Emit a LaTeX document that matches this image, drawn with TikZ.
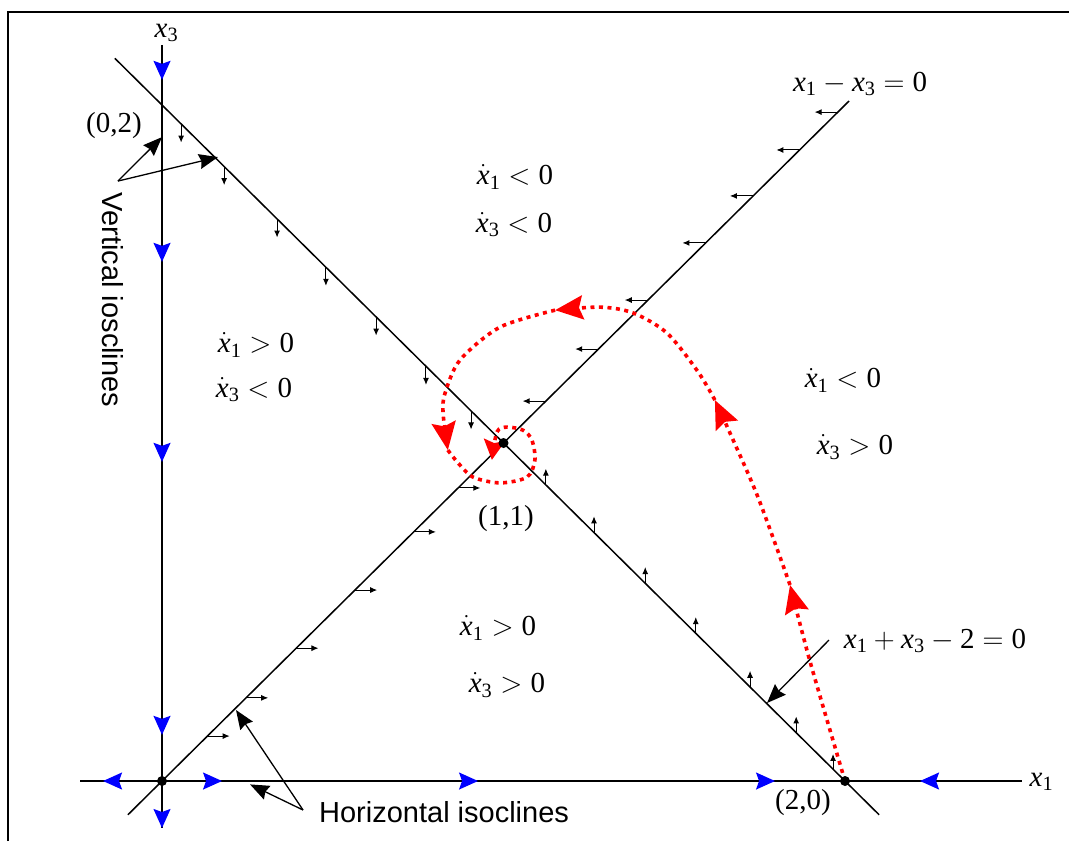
\RequirePackage{fix-cm}
\documentclass[tikz,border=0pt]{standalone}
\usepackage{amsmath}
\usepackage{fontspec}
\setmainfont{Liberation Serif}
\newfontfamily\arialfont{Liberation Sans}
\usepackage{tikz}
\usetikzlibrary{arrows.meta}
\usetikzlibrary{decorations.markings}
\newcommand{\xv}{\mathit{x}}
\newcommand{\xs}[1]{\xv_{\text{#1}}}
\newcommand{\xd}[1]{\dot{\xv}_{\text{#1}}}
\tikzset{
  bluetip/.tip={Stealth[color=blue,length=19pt,width=17pt,inset=3pt]},
  redtip/.tip={Stealth[color=red,length=28pt,width=24pt,inset=4pt]},
  smallredtip/.tip={Stealth[color=red,length=20pt,width=21pt,inset=3pt]}
}

\begin{document}
\begin{tikzpicture}[
    x=341.5pt,
    y=338pt,
    every node/.style={font=\fontsize{29}{34}\selectfont, inner sep=0pt},
    sanslabel/.style={font=\arialfont\fontsize{29}{34}\selectfont},
    isocline/.style={line width=1.5},
    flow/.style={line width=1, -{Latex[length=7pt,width=6pt]}},
    pointer/.style={line width=1.3, -{Stealth[length=19pt,width=15pt,inset=2pt]}},
    orbit/.style={red, line width=3.6, dash pattern=on 4pt off 4.5pt, -redtip},
    fixpoint/.style={circle, fill, minimum size=10pt}
]
  \useasboundingbox (-0.4744,-0.1775) rectangle (2.6559,2.3107);
  \draw[line width=1.5] (-0.451,-0.1775) -- (-0.451,2.2751) -- (2.6559,2.2751);

  \draw[isocline, postaction={decorate}, decoration={markings,
      mark=at position 35pt with {\arrow{bluetip}},
      mark=at position 217pt with {\arrow{bluetip}},
      mark=at position 417pt with {\arrow{bluetip}},
      mark=at position 690pt with {\arrow{bluetip}},
      mark=at position 1 with {\arrow{bluetip}}}]
    (0,2.178) -- (0,-0.139);
  \draw[isocline, postaction={decorate}, decoration={markings,
      mark=at position 23pt with {\arrowreversed{bluetip}},
      mark=at position 142pt with {\arrow{bluetip}},
      mark=at position 398pt with {\arrow{bluetip}},
      mark=at position 695pt with {\arrow{bluetip}},
      mark=at position 840pt with {\arrowreversed{bluetip}}}]
    (-0.24,0) -- (2.518,0);
  \draw[isocline] (-0.138,2.138) -- (2.1,-0.1);
  \draw[isocline] (-0.1,-0.1) -- (2.012,2.012);

  \draw[flow] (0.056,1.944) -- ++(0,-0.055);
  \draw[flow] (0.182,1.818) -- ++(0,-0.055);
  \draw[flow] (0.337,1.663) -- ++(0,-0.055);
  \draw[flow] (0.480,1.520) -- ++(0,-0.055);
  \draw[flow] (0.627,1.373) -- ++(0,-0.055);
  \draw[flow] (0.773,1.227) -- ++(0,-0.055);
  \draw[flow] (0.905,1.095) -- ++(0,-0.055);

  \draw[flow] (1.124,0.876) -- ++(0,0.048);
  \draw[flow] (1.265,0.735) -- ++(0,0.048);
  \draw[flow] (1.415,0.585) -- ++(0,0.048);
  \draw[flow] (1.563,0.437) -- ++(0,0.048);
  \draw[flow] (1.722,0.278) -- ++(0,0.048);
  \draw[flow] (1.857,0.143) -- ++(0,0.048);
  \draw[flow] (1.965,0.035) -- ++(0,0.045);

  \draw[flow] (0.867,0.867) -- ++(0.065,0);
  \draw[flow] (0.737,0.737) -- ++(0.065,0);
  \draw[flow] (0.565,0.565) -- ++(0.065,0);
  \draw[flow] (0.393,0.393) -- ++(0.065,0);
  \draw[flow] (0.246,0.246) -- ++(0.065,0);
  \draw[flow] (0.133,0.133) -- ++(0.065,0);

  \draw[flow] (1.124,1.124) -- ++(-0.068,0);
  \draw[flow] (1.278,1.278) -- ++(-0.068,0);
  \draw[flow] (1.423,1.423) -- ++(-0.068,0);
  \draw[flow] (1.592,1.592) -- ++(-0.068,0);
  \draw[flow] (1.731,1.731) -- ++(-0.068,0);
  \draw[flow] (1.867,1.867) -- ++(-0.068,0);
  \draw[flow] (1.979,1.979) -- ++(-0.068,0);

  \draw[orbit] plot[smooth] coordinates {(2.0,0) (1.898,0.352) (1.839,0.58)};
  \draw[orbit] plot[smooth] coordinates {(1.839,0.58) (1.745,0.84) (1.663,1.03) (1.619,1.127)};
  \draw[orbit] plot[smooth] coordinates {(1.619,1.127) (1.570,1.21) (1.479,1.325) (1.379,1.385) (1.283,1.402) (1.151,1.393)};
  \draw[orbit] plot[smooth] coordinates {(1.151,1.393) (0.99,1.343) (0.873,1.246) (0.829,1.148) (0.823,1.089) (0.837,0.979)};
  \draw[orbit, -smallredtip] plot[smooth] coordinates {(0.837,0.979) (0.867,0.941) (0.911,0.899) (0.990,0.882) (1.069,0.899) (1.092,0.950) (1.083,1.009) (1.057,1.038) (1.010,1.047) (0.981,1.033) (0.966,0.950)};

  \node[fixpoint] (origin) at (0,0) {};
  \node[fixpoint] (eq11) at (1,1) {};
  \node[fixpoint] (eq20) at (2,0) {};

  \node[anchor=base] (x3lab) at (0.013,2.201) {$\xs{3}$};
  \node[anchor=base west] (x1lab) at (2.54,-0.015) {$\xs{1}$};
  \node (p02) at (-0.1406,1.938) {(0,2)};
  \node (p11) at (1.0073,0.778) {(1,1)};
  \node (p20) at (1.877,-0.065) {(2,0)};
  \node[anchor=base] (eqdiag) at (2.044,2.041) {$\xs{1} - \xs{3} = \text{0}$};
  \node[anchor=base] (eqanti) at (2.2635,0.3935) {$\xs{1} + \xs{3} - \text{2} = \text{0}$};

  \node (r1a) at (1.0337,1.787) {$\xd{1} < \text{0}$};
  \node (r1b) at (1.0307,1.645) {$\xd{3} < \text{0}$};
  \node (r2a) at (0.2753,1.290) {$\xd{1} > \text{0}$};
  \node (r2b) at (0.2694,1.157) {$\xd{3} < \text{0}$};
  \node (r3a) at (1.994,1.186) {$\xd{1} < \text{0}$};
  \node (r3b) at (2.029,0.988) {$\xd{3} > \text{0}$};
  \node (r4a) at (0.984,0.4527) {$\xd{1} > \text{0}$};
  \node (r4b) at (1.010,0.284) {$\xd{3} > \text{0}$};

  \node[sanslabel, rotate=-90] (vlab) at (-0.1435,1.423) {Vertical iosclines};
  \node[sanslabel] (hlab) at (0.826,-0.0917) {Horizontal isoclines};

  \coordinate (vapex) at (-0.129,1.775);
  \coordinate (vtipa) at (0,1.905);
  \coordinate (vtipb) at (0.164,1.846);
  \draw[pointer] (vapex) -- (vtipa);
  \draw[pointer] (vapex) -- (vtipb);

  \coordinate (hapex) at (0.413,-0.0858);
  \coordinate (htipa) at (0.2167,0.21);
  \coordinate (htipb) at (0.2577,-0.01);
  \draw[pointer] (hapex) -- (htipa);
  \draw[pointer] (hapex) -- (htipb);

  \coordinate (eqstart) at (1.953,0.417);
  \coordinate (eqtip) at (1.7716,0.2308);
  \draw[pointer] (eqstart) -- (eqtip);
\end{tikzpicture}
\end{document}
